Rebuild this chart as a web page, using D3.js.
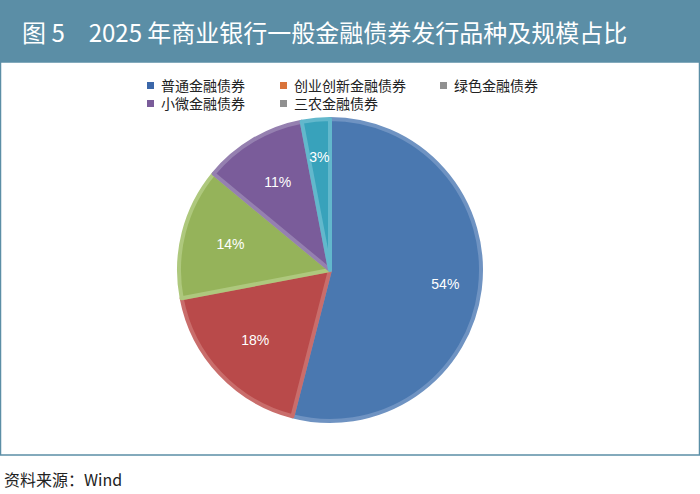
<!DOCTYPE html>
<html><head><meta charset="utf-8">
<script src="https://cdn.jsdelivr.net/npm/d3@7"></script>
<style>body{margin:0;background:#fff;font-family:"Noto Sans CJK SC","Noto Sans",sans-serif}</style>
</head><body><div id="chart"></div>
<script>
const categories = ["普通金融债券", "创业创新金融债券", "绿色金融债券", "小微金融债券", "三农金融债券"];
const legendColors = ["#3b67a9", "#d9733a", "#909090", "#7a5c9a", "#909090"];
const values = [54, 18, 14, 11, 3];
const sliceColors = ["#4a78b0", "#b94a4a", "#95b35a", "#7a5c9a", "#38a2bb"];
const strokeColors = ["#6f93c2", "#c96d6b", "#aec87d", "#9580b0", "#62b8cc"];

const width = 700, height = 494;
const svg = d3.select("#chart").append("svg").attr("width", width).attr("height", height);

svg.append("rect").attr("x", 0).attr("y", 0).attr("width", width).attr("height", 62).attr("fill", "#5b8ea6");
svg.append("text").attr("x", 22).attr("y", 42).attr("fill", "#fff").attr("font-size", 24)
    .text("图 5　2025 年商业银行一般金融债券发行品种及规模占比");
svg.append("rect").attr("x", 0.5).attr("y", 62).attr("width", width - 1).attr("height", 393)
    .attr("fill", "none").attr("stroke", "#5b8ea6").attr("stroke-width", 1.5);

// legend
const legendPos = [[147, 87], [280, 87], [440, 87], [147, 105], [280, 105]];
categories.forEach((c, i) => {
    const g = svg.append("g").attr("transform", `translate(${legendPos[i][0]},${legendPos[i][1]})`);
    g.append("rect").attr("x", 0).attr("y", -5).attr("width", 7).attr("height", 7).attr("fill", legendColors[i]);
    g.append("text").attr("x", 14).attr("y", 4).attr("font-size", 14).attr("fill", "#222").text(c);
});

const cx = 330, cy = 270, r = 151;
const pie = d3.pie().sort(null).value(d => d)(values);
const arc = d3.arc().innerRadius(0).outerRadius(r);
const g = svg.append("g").attr("transform", `translate(${cx},${cy})`);
g.selectAll("path").data(pie).enter().append("path")
    .attr("d", arc)
    .attr("fill", (d, i) => sliceColors[i])
    .attr("stroke", (d, i) => strokeColors[i])
    .attr("stroke-width", 4)
    .attr("stroke-linejoin", "round");
const labelR = [0.77, 0.68, 0.68, 0.68, 0.75];
g.selectAll("text").data(pie).enter().append("text")
    .attr("transform", (d, i) => {
        const a = (d.startAngle + d.endAngle) / 2;
        const rr = r * labelR[i];
        return `translate(${Math.sin(a) * rr},${-Math.cos(a) * rr})`;
    })
    .attr("text-anchor", "middle").attr("dy", "0.35em")
    .attr("fill", "#fff").attr("font-size", 14).attr("font-family", "Liberation Sans, Arial, sans-serif")
    .text(d => d.data + "%");

svg.append("text").attr("x", 4).attr("y", 486).attr("font-size", 16).attr("fill", "#222").text("资料来源：Wind");
</script></body></html>
